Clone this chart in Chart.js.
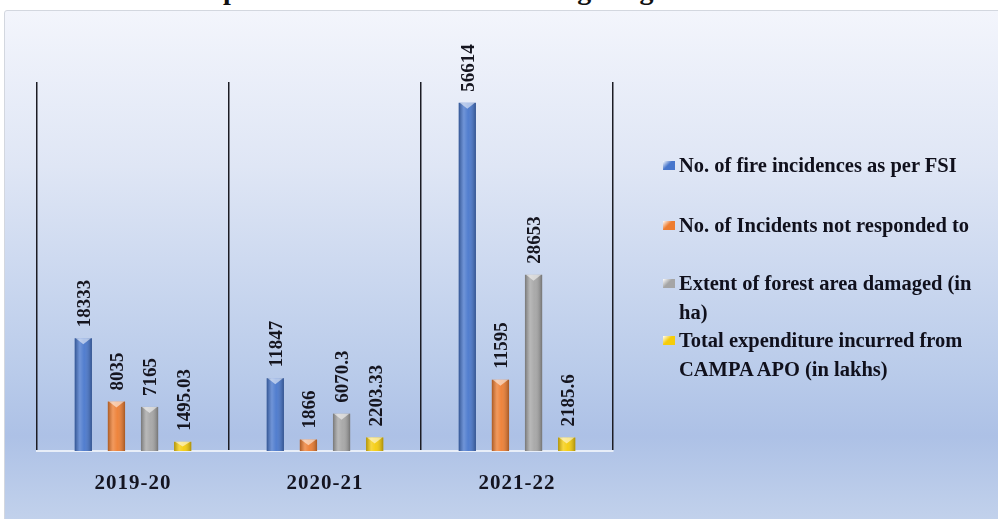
<!DOCTYPE html>
<html>
<head>
<meta charset="utf-8">
<script src="https://cdn.jsdelivr.net/npm/chart.js@4.4.1/dist/chart.umd.min.js"></script>
<style>
  html, body { margin: 0; padding: 0; background: #ffffff; overflow: hidden; }
  #wrap { position: relative; width: 998px; height: 519px; overflow: hidden; }
  #title {
    position: absolute; left: 0; width: 978px; top: -24px; text-align: center;
    font: bold 28px "Liberation Serif", serif; line-height: 28px; color: #111;
    white-space: nowrap;
  }
  #box {
    position: absolute; left: 4px; top: 10px; width: 998px; height: 520px;
    border: 1px solid #d3d7df; border-radius: 3px; box-sizing: border-box;
    background: linear-gradient(to bottom, #f3f5fc 0%, #dfe6f5 30%, #b9cbea 70%, #adc1e6 82%, #c4d3ec 100%);
  }
  canvas { position: absolute; left: 0; top: 0; }
  .leg {
    position: absolute; left: 679px; font: bold 20.5px "Liberation Serif", serif;
    line-height: 29px; color: #10101c; white-space: nowrap;
  }
  .leg i {
    position: absolute; left: -16px; top: 10px; width: 12px; height: 9px;
  }
</style>
</head>
<body>
<div id="wrap">
  <div id="title">Expenditure incurred towards fighting forest fires</div>
  <div id="box"></div>
  <canvas id="myChart" width="998" height="519"></canvas>
  <div id="legend"></div>
</div>
<script>
// data
const years = ['2019-20', '2020-21', '2021-22'];
const fireIncidences = [18333, 11847, 56614];
const notResponded = [8035, 1866, 11595];
const areaDamaged = [7165, 6070.3, 28653];
const expenditure = [1495.03, 2203.33, 2185.6];
const valueText = [
  ['18333', '11847', '56614'],
  ['8035', '1866', '11595'],
  ['7165', '6070.3', '28653'],
  ['1495.03', '2203.33', '2185.6']
];
const seriesNames = [
  'No. of fire incidences as per FSI',
  'No. of Incidents not responded to',
  'Extent of forest area damaged (in<br>ha)',
  'Total expenditure incurred from<br>CAMPA APO (in lakhs)'
];
const seriesColors = ['#4776cc', '#ed7d31', '#a5a5a5', '#f5cc0a'];
const legendTops = [151, 211, 269, 326];

// legend (html)
let legendHtml = '';
for (let i = 0; i < seriesNames.length; i++) {
  legendHtml += '<div class="leg" style="top:' + legendTops[i] + 'px"><i style="background:linear-gradient(135deg,#fff 0%,' +
    seriesColors[i] + ' 45%,' + seriesColors[i] + ' 100%)"></i>' + seriesNames[i] + '</div>';
}
document.getElementById('legend').innerHTML = legendHtml;

// shading + top caps on the bars, and rotated value labels
const barDeco = {
  id: 'barDeco',
  beforeDraw(chart) { chart.ctx.letterSpacing = '1px'; },
  beforeDatasetsDraw(chart) { chart.ctx.letterSpacing = '0px'; },
  afterDatasetsDraw(chart) {
    const ctx = chart.ctx;
    chart.data.datasets.forEach(function (ds, di) {
      chart.getDatasetMeta(di).data.forEach(function (bar, i) {
        const p = bar.getProps(['x', 'y', 'base', 'width'], true);
        const left = p.x - p.width / 2, right = p.x + p.width / 2;
        ctx.save();
        let g = ctx.createLinearGradient(left, 0, right, 0);
        g.addColorStop(0, 'rgba(0,0,0,0.28)');
        g.addColorStop(0.3, 'rgba(255,255,255,0.22)');
        g.addColorStop(0.55, 'rgba(255,255,255,0.06)');
        g.addColorStop(1, 'rgba(0,0,0,0.30)');
        ctx.fillStyle = g;
        ctx.fillRect(left, p.y, p.width, p.base - p.y);
        // little cap triangle
        const capH = Math.min(6, (p.base - p.y) / 2);
        ctx.beginPath();
        ctx.moveTo(left + 1, p.y);
        ctx.lineTo(right - 1, p.y);
        ctx.lineTo(p.x, p.y + capH);
        ctx.closePath();
        ctx.fillStyle = 'rgba(255,255,255,0.55)';
        ctx.fill();
        // value label
        ctx.translate(p.x + 2, p.y - 11);
        ctx.rotate(-Math.PI / 2);
        ctx.font = 'bold 19px "Liberation Serif", serif';
        ctx.fillStyle = '#15151f';
        ctx.textAlign = 'left';
        ctx.textBaseline = 'middle';
        ctx.fillText(valueText[di][i], 0, 0);
        ctx.restore();
      });
    });
  }
};

let ctx = document.getElementById('myChart').getContext('2d');
let chart = new Chart(ctx, {
  type: 'bar',
  data: {
    labels: years,
    datasets: [
      { label: 'No. of fire incidences as per FSI', data: fireIncidences, backgroundColor: seriesColors[0] },
      { label: 'No. of Incidents not responded to', data: notResponded, backgroundColor: seriesColors[1] },
      { label: 'Extent of forest area damaged (in ha)', data: areaDamaged, backgroundColor: seriesColors[2] },
      { label: 'Total expenditure incurred from CAMPA APO (in lakhs)', data: expenditure, backgroundColor: seriesColors[3] }
    ]
  },
  options: {
    responsive: false,
    animation: false,
    devicePixelRatio: 1,
    categoryPercentage: 0.69,
    barPercentage: 0.52,
    layout: { padding: { left: 37, right: 385, top: 82, bottom: 0 } },
    plugins: {
      legend: { display: false },
      title: { display: false },
      tooltip: { enabled: false }
    },
    scales: {
      x: {
        afterFit: function (scale) { scale.height = 68; },
        grid: { display: true, offset: true, color: '#1c1c24', lineWidth: 1.5, drawTicks: false },
        border: { display: true, color: '#e8eef8', width: 2 },
        ticks: {
          padding: 20,
          color: '#141420',
          font: { family: '"Liberation Serif", serif', size: 21, weight: 'bold' }
        }
      },
      y: {
        display: false,
        min: 0,
        max: 60000
      }
    }
  },
  plugins: [barDeco]
});
</script>
</body>
</html>
